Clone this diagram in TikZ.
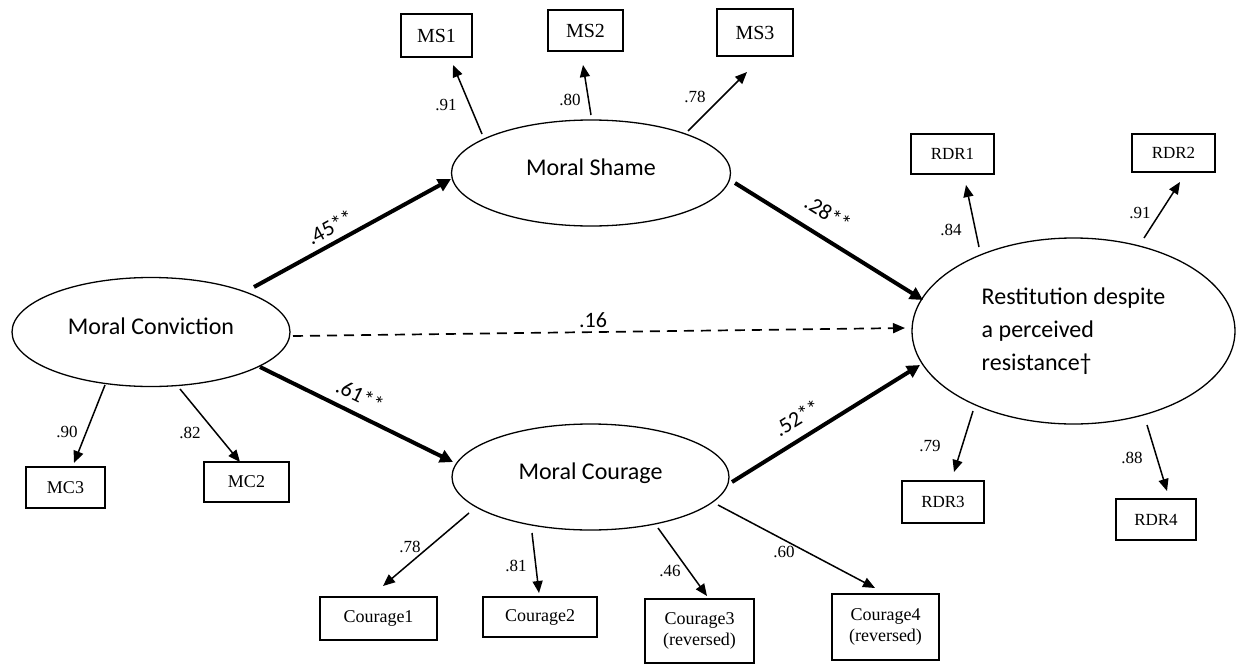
\documentclass[tikz,border=0pt]{standalone}
\usepackage{fontspec}
\setmainfont{Liberation Serif}
\newfontfamily\calfont{Carlito}
\usetikzlibrary{shapes.geometric,arrows.meta,calc}
\begin{document}
\begin{tikzpicture}[x=0.5pt,y=-0.5pt,
  latent/.style={ellipse, draw, line width=0.65pt, inner sep=0pt,
    font=\calfont\fontsize{12}{16.5}\selectfont, text height=0.7em, text depth=0.45em},
  obs/.style={rectangle, draw, line width=1pt, inner sep=0pt},
  bigtxt/.style={font=\fontsize{10}{12}\selectfont},
  midtxt/.style={font=\fontsize{9}{10.5}\selectfont},
  smltxt/.style={font=\fontsize{8.5}{10}\selectfont},
  load/.style={line width=0.75pt, -{Triangle[length=6pt,width=5pt]}},
  struct/.style={line width=2pt, -{Triangle[length=6.5pt,width=6.5pt]}},
  weak/.style={line width=0.85pt, dash pattern=on 5pt off 3.5pt, -{Triangle[length=6pt,width=5pt]}},
  coef/.style={font=\calfont\fontsize{11}{13}\selectfont, inner sep=0pt},
  ld/.style={font=\fontsize{8.5}{10}\selectfont, inner sep=0pt}]
\useasboundingbox (0,0) rectangle (1242,664);

% latent variables
\node[latent, minimum width=139pt, minimum height=54.5pt] (mc) at (151,332) {Moral Conviction};
\node[latent, minimum width=139.5pt, minimum height=53pt] (ms) at (591,173) {Moral Shame};
\node[latent, minimum width=138.5pt, minimum height=53pt] (mcour) at (590.5,477) {Moral Courage};
\node[latent, minimum width=161.5pt, minimum height=93pt, align=left, text height=, text depth=] (rdr) at (1073.5,331) {Restitution despite\\a perceived\\resistance†};

% indicators
\node[obs, bigtxt, minimum width=35.5pt, minimum height=21.5pt] (ms1) at (436.5,35.5) {MS1};
\node[obs, bigtxt, minimum width=37.5pt, minimum height=20.5pt] (ms2) at (585.5,30.5) {MS2};
\node[obs, bigtxt, minimum width=38pt, minimum height=23.5pt] (ms3) at (755,32.5) {MS3};
\node[obs, smltxt, minimum width=41.5pt, minimum height=20pt] (rdr1) at (952.5,154) {RDR1};
\node[obs, smltxt, minimum width=41.5pt, minimum height=19pt] (rdr2) at (1173.5,153) {RDR2};
\node[obs, smltxt, minimum width=41pt, minimum height=21pt] (rdr3) at (943,502) {RDR3};
\node[obs, smltxt, minimum width=40pt, minimum height=20.5pt] (rdr4) at (1156,519.5) {RDR4};
\node[obs, midtxt, minimum width=39.5pt, minimum height=20.5pt] (mc3) at (65.5,487.5) {MC3};
\node[obs, midtxt, minimum width=42.5pt, minimum height=20pt] (mc2) at (246.5,482) {MC2};
\node[obs, midtxt, minimum width=58.5pt, minimum height=21.5pt] (c1) at (378.5,618.5) {Courage1};
\node[obs, midtxt, minimum width=57pt, minimum height=20pt] (c2) at (540,617) {Courage2};
\node[obs, midtxt, align=center, minimum width=54.5pt, minimum height=32pt] (c3) at (699.5,631) {Courage3\\(reversed)};
\node[obs, midtxt, align=center, minimum width=53.5pt, minimum height=33pt] (c4) at (885.5,627) {Courage4\\(reversed)};

% structural paths
\draw[struct] ($(mc)+(103,-45)$) -- ($(ms)+(-140,6)$);
\draw[struct] ($(ms)+(144,10)$) -- ($(rdr)+(-150.5,-31)$);
\draw[weak] ($(mc)+(142,4)$) -- ($(rdr)+(-168.5,-3)$);
\draw[struct] ($(mc)+(109,35)$) -- ($(mcour)+(-137.5,-15)$);
\draw[struct] ($(mcour)+(141.5,5)$) -- ($(rdr)+(-153.5,34)$);

\node[coef, rotate=28.7] (k1) at (330,227) {.45**};
\node[coef, rotate=-31.9] (k2) at (828,213) {.28**};
\node[coef] (k3) at (593,320) {.16};
\node[coef, rotate=-26] (k4) at (360,395) {.61**};
\node[coef, rotate=31.9] (k5) at (797,418) {.52**};

% loadings
\draw[load] ($(mc)+(-46,53)$) -- ($(mc3)+(8.5,-24.5)$);
\draw[load] ($(mc)+(29,57)$) -- ($(mc2)+(-6.5,-20)$);
\draw[load] ($(ms)+(-109,-39)$) -- ($(ms1)+(16.5,29.5)$);
\draw[load] ($(ms)+(0,-58)$) -- ($(ms2)+(-2.5,34.5)$);
\draw[load] ($(ms)+(97,-42)$) -- ($(ms3)+(-8,39.5)$);
\draw[load] ($(rdr)+(-94.5,-84)$) -- ($(rdr1)+(13.5,31)$);
\draw[load] ($(rdr)+(70.5,-93)$) -- ($(rdr2)+(6.5,29)$);
\draw[load] ($(rdr)+(-100.5,80)$) -- ($(rdr3)+(11,-30)$);
\draw[load] ($(rdr)+(73.5,94)$) -- ($(rdr4)+(11,-28.5)$);
\draw[load] ($(mcour)+(-121.5,36)$) -- ($(c1)+(4.5,-32.5)$);
\draw[load] ($(mcour)+(-58.5,56)$) -- ($(c2)+(-1,-24)$);
\draw[load] ($(mcour)+(67.5,51)$) -- ($(c3)+(7.5,-35)$);
\draw[load] ($(mcour)+(127.5,28)$) -- ($(c4)+(-10.5,-39)$);

\node[ld] (l1) at (67,432) {.90};
\node[ld] (l2) at (190,433) {.82};
\node[ld] (l3) at (446,105) {.91};
\node[ld] (l4) at (570,100) {.80};
\node[ld] (l5) at (695,97) {.78};
\node[ld] (l6) at (951,230) {.84};
\node[ld] (l7) at (1140,213) {.91};
\node[ld] (l8) at (930,446) {.79};
\node[ld] (l9) at (1132,458) {.88};
\node[ld] (l10) at (410,547) {.78};
\node[ld] (l11) at (516,566) {.81};
\node[ld] (l12) at (670,571) {.46};
\node[ld] (l13) at (784,552) {.60};
\end{tikzpicture}
\end{document}
